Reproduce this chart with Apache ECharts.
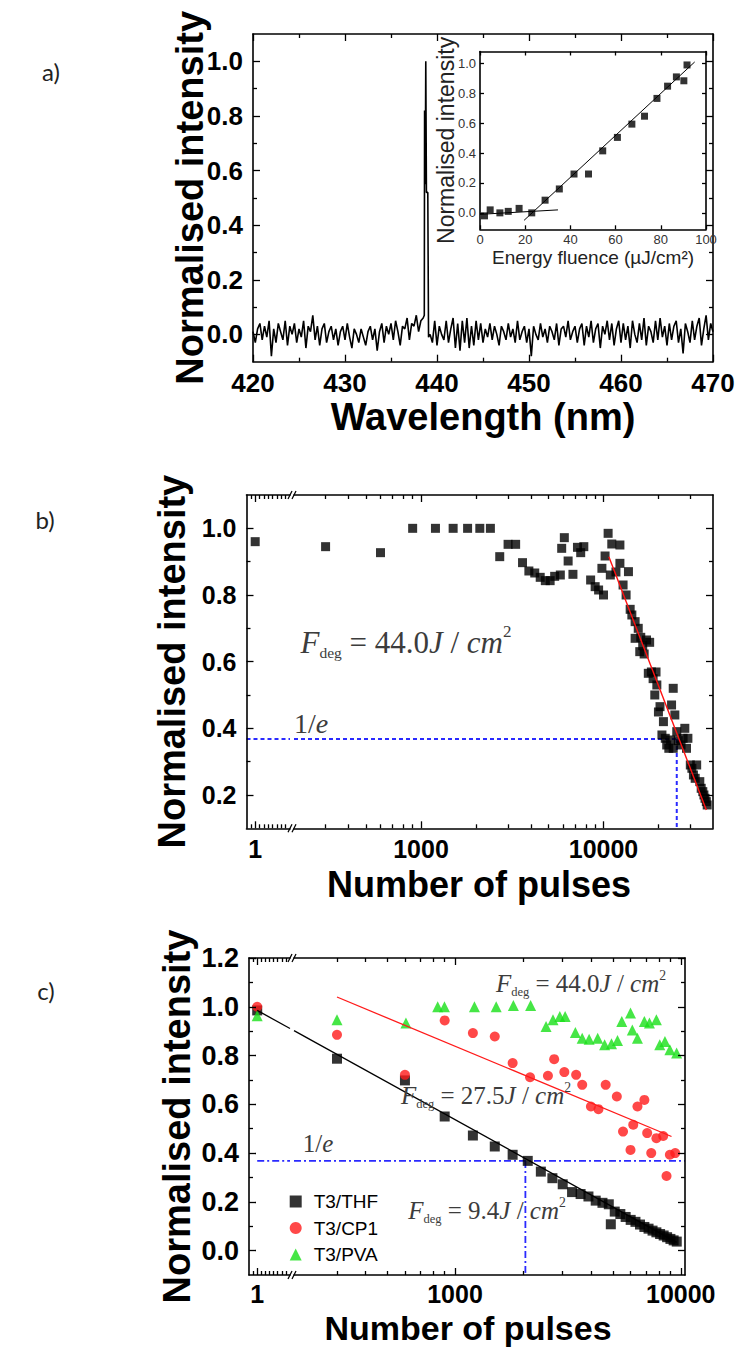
<!DOCTYPE html>
<html>
<head>
<meta charset="utf-8">
<script src="https://cdn.jsdelivr.net/npm/echarts@6.0.0/dist/echarts.min.js"></script>
<style>
html,body{margin:0;padding:0;background:#fff;}
#chart{width:739px;height:1349px;}
</style>
</head>
<body>
<div id="chart"></div>
<script>
// ================= DATA =================
// Panel a: emission spectrum (noise sampled every 0.25 nm from 420 nm)
const aNoiseStart = 420;
const aNoiseStep = 0.25;
const aNoise = [
0.01,-0.03,0.02,0.04,-0.02,0.03,-0.01,0.05,-0.08,0.02,-0.03,0.04,0.01,-0.02,0.05,-0.04,0.03,0.0,0.04,-0.03,
0.02,-0.01,0.05,-0.05,0.03,0.01,0.07,-0.02,0.03,-0.04,0.02,0.04,-0.03,0.01,0.03,-0.02,0.02,-0.04,0.01,0.03,
-0.02,0.04,-0.01,-0.05,0.02,0.0,-0.03,0.02,-0.01,-0.04,0.01,0.03,-0.02,0.02,-0.06,0.01,0.04,-0.03,0.03,0.0,
0.04,-0.02,0.05,0.01,-0.04,0.03,0.02,0.06,-0.02,0.04,0.03,0.07,0.01,0.05,0.06,null,null,0.0,-0.03,0.05,
-0.04,0.03,0.0,-0.02,0.05,-0.03,0.02,0.06,-0.05,0.04,-0.06,0.05,-0.03,0.06,-0.05,0.03,-0.04,0.05,-0.02,0.04,
-0.03,0.02,-0.01,0.04,-0.02,0.03,0.0,-0.04,0.03,0.01,-0.02,0.04,-0.01,0.02,-0.03,0.05,-0.02,0.01,0.03,-0.03,
0.02,-0.08,0.03,0.0,-0.02,0.04,-0.01,0.02,-0.03,0.03,0.01,-0.02,0.04,-0.04,0.02,0.03,-0.01,0.05,-0.02,0.01,
0.03,-0.03,0.02,0.04,-0.04,0.03,-0.01,0.05,-0.03,0.02,0.04,-0.05,0.03,0.0,0.05,-0.02,0.04,-0.04,0.02,0.05,
-0.03,0.04,-0.02,0.03,-0.05,0.05,0.0,-0.03,0.04,-0.02,0.06,-0.04,0.03,0.01,-0.03,0.05,-0.02,0.06,-0.01,0.03,
-0.04,0.04,-0.02,0.03,0.05,-0.03,0.02,-0.07,0.04,0.01,-0.03,0.05,-0.02,0.03,0.06,-0.04,0.02,0.07,-0.02,0.04,0.01
];
const aPeakWavelength = [438.62, 438.65, 438.72, 438.78, 438.85, 439.0, 439.08];
const aPeakIntensity  = [0.07, 0.82, 0.55, 1.0, 0.52, 0.52, -0.01];
const aXTicks = [420, 430, 440, 450, 460, 470];
const aXMinor = [425, 435, 445, 455, 465];
const aYTicks = [0, 0.2, 0.4, 0.6, 0.8, 1.0];
const aYMinor = [0.1, 0.3, 0.5, 0.7, 0.9];

// Inset: threshold curve
const insetFluence   = [2, 4.5, 8.8, 12.5, 17.3, 22.9, 28.8, 35.1, 41.6, 48, 54.3, 60.8, 67.2, 72.8, 78.3, 83, 86.9, 90.2, 91.6];
const insetIntensity = [-0.02, 0.02, 0.0, 0.01, 0.03, 0.0, 0.085, 0.16, 0.26, 0.26, 0.415, 0.505, 0.594, 0.647, 0.766, 0.848, 0.91, 0.884, 0.99];
const insetFitLowX  = [0, 34.5];
const insetFitLowY  = [-0.01, 0.02];
const insetFitHighX = [19.5, 95];
const insetFitHighY = [-0.05, 1.01];
const insetXTicks = [0, 20, 40, 60, 80, 100];
const insetYTicks = [0, 0.2, 0.4, 0.6, 0.8, 1.0];

// Panel b: degradation of T3/THF
const bPulses = [
1, 300, 600, 900, 1200, 1500, 1800, 2100, 2400, 2700,
3000, 3300, 3600, 3900, 4200, 4500, 4800, 5100, 5400, 5800,
5900, 6100, 6400, 6800, 7200, 7500, 7800, 8500, 9000, 9400,
9800, 10000, 10200, 10600, 10900, 11100, 11700, 12300, 12300, 12800,
13300, 13700, 14000, 14300, 14900, 14900, 15500, 15800, 16000, 16400,
16700, 17200, 17600, 17900, 18300, 18700, 19100, 19400, 19600, 20000,
20400, 20900, 21300, 21800, 22200, 22800, 23300, 23600, 24100, 24100,
24600, 25200, 25700, 26600, 27300, 27900, 28500, 29000, 29900, 31100,
30500, 31800, 32400, 33700, 34300, 35000, 35500, 36000, 36600, 37000
];
const bIntensity = [
0.96, 0.945, 0.927, 1.0, 1.0, 1.0, 1.0, 1.0, 1.0, 0.915,
0.952, 0.952, 0.897, 0.872, 0.866, 0.853, 0.843, 0.843, 0.856, 0.86,
0.94, 0.972, 0.902, 0.862, 0.943, 0.927, 0.945, 0.845, 0.825, 0.815,
0.88, 0.80, 0.917, 0.985, 0.86, 0.953, 0.869, 0.95, 0.895, 0.83,
0.80, 0.87, 0.757, 0.74, 0.72, 0.67, 0.70, 0.63, 0.673, 0.648,
0.623, 0.665, 0.565, 0.658, 0.569, 0.549, 0.50, 0.569, 0.53, 0.449,
0.465, 0.38, 0.42, 0.37, 0.35, 0.34, 0.365, 0.47, 0.52, 0.34,
0.44, 0.39, 0.363, 0.35, 0.37, 0.40, 0.34, 0.37, 0.29, 0.26,
0.28, 0.25, 0.29, 0.24, 0.22, 0.21, 0.20, 0.19, 0.18, 0.17
];
const bFitPulses = [10700, 36600];
const bFitValues = [0.915, 0.155];
const bInvE = 0.368;
const bCrossPulses = 25200;
const bYTicks = [0.2, 0.4, 0.6, 0.8, 1.0];
const bYMinor = [0.3, 0.5, 0.7, 0.9];
const bXTicksLeft = [1];
const bXTicksRight = [1000, 10000];
const bLogMinor = [300, 400, 500, 600, 700, 800, 900, 2000, 3000, 4000, 5000, 6000, 7000, 8000, 9000, 20000, 30000];
const leftSegMinor = [0.5, 1.5, 2, 2.5, 3, 3.5, 4, 4.5];

// Panel c: three host matrices
const cThfPulses = [
1, 300, 600, 900, 1200, 1500, 1800, 2100, 2400, 2700,
3000, 3300, 3600, 3900, 4200, 4500, 4800, 4900, 5100, 5400,
5700, 6000, 6300, 6600, 6900, 7200, 7500, 7800, 8100, 8400,
8700, 9000, 9300, 9600
];
const cThfValues = [
0.985, 0.787, 0.698, 0.55, 0.472, 0.427, 0.393, 0.368, 0.324, 0.297,
0.272, 0.24, 0.232, 0.222, 0.205, 0.196, 0.19, 0.108, 0.16, 0.15,
0.138, 0.126, 0.118, 0.107, 0.097, 0.09, 0.082, 0.075, 0.068, 0.062,
0.055, 0.048, 0.042, 0.037
];
const cCp1Pulses = [
1, 300, 600, 900, 1200, 1500, 1800, 2150, 2580, 2750,
3050, 3440, 3660, 4000, 4320, 4650, 5210, 5550, 5990, 6160,
6430, 6900, 7100, 7400, 7800, 8360, 8650, 8950, 9450
];
const cCp1Values = [
1.0, 0.885, 0.721, 0.944, 0.892, 0.878, 0.769, 0.711, 0.717, 0.785,
0.732, 0.721, 0.68, 0.591, 0.58, 0.68, 0.632, 0.488, 0.413, 0.516,
0.591, 0.618, 0.482, 0.4, 0.461, 0.47, 0.306, 0.393, 0.4
];
const cPvaPulses = [
1, 300, 606, 838, 898, 1219, 1522, 1814, 2162, 2532,
2717, 2913, 3075, 3414, 3660, 3927, 4285, 4600, 4935, 5245,
5480, 5990, 6100, 6430, 6900, 7265, 7800, 8070, 8510, 8950, 9590
];
const cPvaValues = [
0.963, 0.947, 0.933, 1.0, 1.0, 1.0, 1.0, 1.005, 1.005, 0.919,
0.947, 0.96, 0.96, 0.894, 0.871, 0.867, 0.871, 0.844, 0.848, 0.862,
0.94, 0.974, 0.905, 0.871, 0.94, 0.933, 0.947, 0.844, 0.858, 0.824, 0.81
];
const cThfFitLeftX = [1, 5];
const cThfFitLeftY = [0.985, 0.911];
const cThfFitRightX = [193.5, 9600];
const cThfFitRightY = [0.902, 0.034];
const cCp1FitX = [300, 9100];
const cCp1FitY = [1.04, 0.468];
const cInvE = 0.368;
const cCrossPulses = 2050;
const cYTicks = [0, 0.2, 0.4, 0.6, 0.8, 1.0, 1.2];
const cYMinor = [0.1, 0.3, 0.5, 0.7, 0.9, 1.1];
const cXTicksLeft = [1];
const cXTicksRight = [1000, 10000];
const cLogMinor = [300, 400, 500, 600, 700, 800, 900, 2000, 3000, 4000, 5000, 6000, 7000, 8000, 9000];
const seriesNames = ['T3/THF', 'T3/CP1', 'T3/PVA'];

// ================= BUILD =================
const SANS = 'Liberation Sans';
const SERIF = 'Liberation Serif';
const grid = [], xAxis = [], yAxis = [], series = [], graphic = [];

function G(r) { grid.push(Object.assign({ show: false, containLabel: false, outerBoundsMode: 'none' }, r)); return grid.length - 1; }
function axis(gi, type, pos, min, max, o) {
  o = o || {};
  const a = {
    gridIndex: gi, type: type, position: pos, min: min, max: max,
    axisLine: { show: !!o.line, onZero: false, lineStyle: { color: '#000', width: 1.6 } },
    axisTick: { show: !!o.ticks, inside: true, length: o.tl || 7, lineStyle: { color: '#000', width: 1.3 } },
    axisLabel: { show: false },
    splitLine: { show: false }, minorTick: { show: false }, minorSplitLine: { show: false },
    silent: true, z: 10
  };
  if (type === 'log') a.logBase = 10;
  if (o.ticks) a.axisTick.customValues = o.ticks;
  if (o.labels) {
    a.axisLabel = { show: true, customValues: o.labels, margin: o.margin, formatter: o.fmt,
      color: o.lc || '#000', fontFamily: SANS, fontWeight: o.fw || 'bold', fontSize: o.fs };
  }
  if (o.name) {
    a.name = o.name; a.nameLocation = 'middle'; a.nameGap = o.nameGap; a.nameMoveOverlap = false;
    a.nameTextStyle = o.ns;
  }
  return a;
}
function X() { xAxis.push(axis.apply(null, arguments)); return xAxis.length - 1; }
function Y() { yAxis.push(axis.apply(null, arguments)); return yAxis.length - 1; }
const fmt1 = v => Number(v).toFixed(1);
const fmtInt = v => String(Math.round(v));
const pairs = (xs, ys) => xs.map((x, i) => [x, ys[i]]);
const bigName = { fontFamily: SANS, fontWeight: 'bold', fontSize: 38, color: '#000' };

// ---- Panel a ----
const rA = { left: 253, top: 34, width: 460, height: 327.7 };
const gA = G(rA), gA2 = G(rA);
const axA = X(gA, 'value', 'bottom', 420, 470, { line: true, ticks: aXTicks, labels: aXTicks, fs: 26, margin: 8, fmt: fmtInt,
  name: 'Wavelength (nm)', nameGap: 36, ns: bigName });
X(gA, 'value', 'top', 420, 470, { line: true, ticks: aXTicks });
const ayA = Y(gA, 'value', 'left', -0.1, 1.1, { line: true, ticks: aYTicks, labels: aYTicks, fs: 26, margin: 10, fmt: fmt1,
  name: 'Normalised intensity', nameGap: 44, ns: bigName });
Y(gA, 'value', 'right', -0.1, 1.1, { line: true, ticks: aYTicks });
X(gA2, 'value', 'bottom', 420, 470, { ticks: aXMinor, tl: 4 });
X(gA2, 'value', 'top', 420, 470, { ticks: aXMinor, tl: 4 });
Y(gA2, 'value', 'left', -0.1, 1.1, { ticks: aYMinor, tl: 4 });
Y(gA2, 'value', 'right', -0.1, 1.1, { ticks: aYMinor, tl: 4 });

const aSpectrum = aNoise.map((v, i) => [aNoiseStart + i * aNoiseStep, v])
  .filter(p => p[1] !== null)
  .concat(pairs(aPeakWavelength, aPeakIntensity))
  .sort((p, q) => p[0] - q[0]);
series.push({ type: 'line', xAxisIndex: axA, yAxisIndex: ayA, data: aSpectrum, symbol: 'none', showSymbol: false,
  lineStyle: { color: '#000', width: 1.6 }, z: 2 });

// ---- Inset ----
const rI = { left: 480, top: 51.5, width: 226, height: 177.8 };
const gI = G(Object.assign({ show: true, backgroundColor: '#fff', borderWidth: 0 }, rI));
const insetLbl = { fs: 13, fw: 'normal', lc: '#333', margin: 4 };
const axI = X(gI, 'value', 'bottom', 0, 100, Object.assign({ line: true, ticks: insetXTicks, labels: insetXTicks, tl: 4, fmt: fmtInt,
  name: 'Energy fluence (µJ/cm²)', nameGap: 19, ns: { fontFamily: SANS, fontSize: 19, color: '#222' } }, insetLbl));
X(gI, 'value', 'top', 0, 100, { line: true, ticks: insetXTicks, tl: 4 });
const ayI = Y(gI, 'value', 'left', -0.11, 1.08, Object.assign({ line: true, ticks: insetYTicks, labels: insetYTicks, tl: 4, fmt: fmt1,
  name: 'Normalised intensity', nameGap: 23, ns: { fontFamily: SANS, fontSize: 23, color: '#222' } }, insetLbl));
Y(gI, 'value', 'right', -0.11, 1.08, { line: true, ticks: insetYTicks, tl: 4 });
series.push({ type: 'line', xAxisIndex: axI, yAxisIndex: ayI, data: pairs(insetFitLowX, insetFitLowY), symbol: 'none',
  lineStyle: { color: '#000', width: 1 }, z: 3 });
series.push({ type: 'line', xAxisIndex: axI, yAxisIndex: ayI, data: pairs(insetFitHighX, insetFitHighY), symbol: 'none',
  lineStyle: { color: '#000', width: 1 }, z: 3 });
series.push({ type: 'scatter', xAxisIndex: axI, yAxisIndex: ayI, data: pairs(insetFluence, insetIntensity), symbol: 'rect',
  symbolSize: 7, itemStyle: { color: '#000' }, z: 4 });

// ---- Broken-axis helper (panels b and c) ----
function brokenPanel(p) {
  const rL = { left: p.left, top: p.top, width: p.breakL - p.left, height: p.height };
  const rR = { left: p.breakR, top: p.top, width: p.right - p.breakR, height: p.height };
  const gL = G(rL), gL2 = G(rL), gR = G(rR), gR2 = G(rR);
  const lbl = { fs: p.xfs || p.fs, margin: p.xMargin, fmt: fmtInt };
  const xl = X(gL, 'value', 'bottom', 0, 5, Object.assign({ line: true, ticks: p.xLeftTicks, labels: p.xLeftTicks }, lbl));
  X(gL, 'value', 'top', 0, 5, { line: true, ticks: p.xLeftTicks });
  const yl = Y(gL, 'value', 'left', p.ymin, p.ymax, { line: true, ticks: p.yTicks, labels: p.yTicks, fs: p.fs, margin: 10, fmt: fmt1,
    name: 'Normalised intensity', nameGap: p.yNameGap, ns: bigName });
  X(gL2, 'value', 'bottom', 0, 5, { ticks: leftSegMinor, tl: 4 });
  X(gL2, 'value', 'top', 0, 5, { ticks: leftSegMinor, tl: 4 });
  Y(gL2, 'value', 'left', p.ymin, p.ymax, { ticks: p.yMinor, tl: 4 });
  const xr = X(gR, 'log', 'bottom', p.logMin, p.logMax, Object.assign({ line: true, ticks: p.xRightTicks, labels: p.xRightTicks }, lbl));
  X(gR, 'log', 'top', p.logMin, p.logMax, { line: true, ticks: p.xRightTicks });
  const yr = Y(gR, 'value', 'right', p.ymin, p.ymax, { line: true, ticks: p.yTicks });
  X(gR2, 'log', 'bottom', p.logMin, p.logMax, { ticks: p.logMinor, tl: 4 });
  X(gR2, 'log', 'top', p.logMin, p.logMax, { ticks: p.logMinor, tl: 4 });
  Y(gR2, 'value', 'right', p.ymin, p.ymax, { ticks: p.yMinor, tl: 4 });
  return { xl: xl, yl: yl, xr: xr, yr: yr };
}
function splitPts(xs, ys) {
  const all = pairs(xs, ys);
  return [all.filter(p => p[0] < 10), all.filter(p => p[0] >= 10)];
}

// ---- Panel b ----
const B = brokenPanel({ left: 246.5, breakL: 290, breakR: 294, right: 713, top: 495, height: 333.3,
  ymin: 0.1, ymax: 1.1, yTicks: bYTicks, yMinor: bYMinor, fs: 25, xMargin: 8, yNameGap: 55.5,
  xLeftTicks: bXTicksLeft, xRightTicks: bXTicksRight, logMin: 201.4, logMax: 39810, logMinor: bLogMinor });
const bSplit = splitPts(bPulses, bIntensity);
const blue = '#2a2aff';
series.push({ type: 'line', xAxisIndex: B.xl, yAxisIndex: B.yl, data: [[0, bInvE], [5, bInvE]], symbol: 'none',
  lineStyle: { color: blue, width: 2, type: [4, 3] }, z: 3 });
series.push({ type: 'line', xAxisIndex: B.xr, yAxisIndex: B.yr, data: [[201.4, bInvE], [bCrossPulses, bInvE]], symbol: 'none',
  lineStyle: { color: blue, width: 2, type: [4, 3] }, z: 3 });
series.push({ type: 'line', xAxisIndex: B.xr, yAxisIndex: B.yr, data: [[bCrossPulses, bInvE], [bCrossPulses, 0.1]], symbol: 'none',
  lineStyle: { color: blue, width: 2, type: [4, 3] }, z: 3 });
series.push({ type: 'scatter', xAxisIndex: B.xl, yAxisIndex: B.yl, data: bSplit[0], symbol: 'rect', symbolSize: 9,
  itemStyle: { color: '#000' }, z: 4 });
series.push({ type: 'scatter', xAxisIndex: B.xr, yAxisIndex: B.yr, data: bSplit[1], symbol: 'rect', symbolSize: 9,
  itemStyle: { color: '#000' }, z: 4 });
series.push({ type: 'line', xAxisIndex: B.xr, yAxisIndex: B.yr, data: pairs(bFitPulses, bFitValues), symbol: 'none',
  lineStyle: { color: '#ff1010', width: 1.4 }, z: 5 });

// ---- Panel c ----
const C = brokenPanel({ left: 249, breakL: 290, breakR: 294, right: 685, top: 958, height: 317,
  ymin: -0.1, ymax: 1.2, yTicks: cYTicks, yMinor: cYMinor, fs: 27, xfs: 25, xMargin: 6, yNameGap: 53,
  xLeftTicks: cXTicksLeft, xRightTicks: cXTicksRight, logMin: 193.5, logMax: 10443, logMinor: cLogMinor });
const cStyles = [
  { name: seriesNames[0], xs: cThfPulses, ys: cThfValues, symbol: 'rect', size: 10, color: '#000' },
  { name: seriesNames[1], xs: cCp1Pulses, ys: cCp1Values, symbol: 'circle', size: 10, color: '#ff1a1a' },
  { name: seriesNames[2], xs: cPvaPulses, ys: cPvaValues, symbol: 'triangle', size: 11, color: '#18e018' }
];
series.push({ type: 'line', xAxisIndex: C.xl, yAxisIndex: C.yl, data: [[1, cInvE], [5, cInvE]], symbol: 'none',
  lineStyle: { color: blue, width: 1.8, type: [7, 3, 2, 3] }, z: 3 });
series.push({ type: 'line', xAxisIndex: C.xr, yAxisIndex: C.yr, data: [[193.5, cInvE], [10443, cInvE]], symbol: 'none',
  lineStyle: { color: blue, width: 1.8, type: [7, 3, 2, 3] }, z: 3 });
series.push({ type: 'line', xAxisIndex: C.xr, yAxisIndex: C.yr, data: [[cCrossPulses, cInvE], [cCrossPulses, -0.1]], symbol: 'none',
  lineStyle: { color: blue, width: 1.8, type: [7, 3, 2, 3] }, z: 3 });
cStyles.forEach(s => {
  const sp = splitPts(s.xs, s.ys);
  series.push({ type: 'scatter', name: s.name, xAxisIndex: C.xr, yAxisIndex: C.yr, data: sp[1], symbol: s.symbol,
    symbolSize: s.size, itemStyle: { color: s.color }, z: 4 });
  series.push({ type: 'scatter', name: s.name, xAxisIndex: C.xl, yAxisIndex: C.yl, data: sp[0], symbol: s.symbol,
    symbolSize: s.size, itemStyle: { color: s.color }, z: 4 });
});
series.push({ type: 'line', xAxisIndex: C.xl, yAxisIndex: C.yl, data: pairs(cThfFitLeftX, cThfFitLeftY), symbol: 'none',
  lineStyle: { color: '#000', width: 1.3 }, z: 5 });
series.push({ type: 'line', xAxisIndex: C.xr, yAxisIndex: C.yr, data: pairs(cThfFitRightX, cThfFitRightY), symbol: 'none',
  lineStyle: { color: '#000', width: 1.3 }, z: 5 });
series.push({ type: 'line', xAxisIndex: C.xr, yAxisIndex: C.yr, data: pairs(cCp1FitX, cCp1FitY), symbol: 'none',
  lineStyle: { color: '#ff1a1a', width: 1.3 }, z: 5 });

// ---- Graphic texts ----
function txt(x, y, style, rot) {
  graphic.push({ type: 'text', x: x, y: y, rotation: rot || 0, z: 100, silent: true,
    style: Object.assign({ align: 'center', verticalAlign: 'middle', textAlign: 'center', textVerticalAlign: 'middle', fill: '#000' }, style) });
}
function serifRich(size) {
  const base = { fontFamily: SERIF, fontSize: size, fill: '#3c3c3c', lineHeight: size * 1.2, verticalAlign: 'middle' };
  return {
    i: Object.assign({}, base, { fontStyle: 'italic' }),
    n: base,
    s: { fontFamily: SERIF, fontSize: size * 0.5, fill: '#3c3c3c', lineHeight: size * 0.5, verticalAlign: 'bottom' },
    p: { fontFamily: SERIF, fontSize: size * 0.55, fill: '#3c3c3c', lineHeight: size * 0.55, verticalAlign: 'top' }
  };
}
function fdeg(x, y, value, size) {
  txt(x, y, { text: '{i|F}{s|deg}{n| = ' + value + '}{i|J}{n| / }{i|cm}{p|2}', font: size + 'px "Liberation Serif"', rich: serifRich(size) });
}
function invE(x, y, size) {
  txt(x, y, { text: '{n|1/}{i|e}', font: size + 'px "Liberation Serif"', rich: serifRich(size) });
}
txt(51, 71, { text: 'a)', font: '24px Lato', fill: '#222' });
txt(45, 519, { text: 'b)', font: '24px Lato', fill: '#222' });
txt(46, 990, { text: 'c)', font: '24px Lato', fill: '#222' });
txt(479, 884, { text: 'Number of pulses', font: 'bold 36px "Liberation Sans"' });
txt(468, 1328, { text: 'Number of pulses', font: 'bold 34px "Liberation Sans"' });
fdeg(406, 642, '44.0', 31);
invE(311, 723, 28);
fdeg(581, 983, '44.0', 25);
fdeg(486, 1095, '27.5', 25);
fdeg(487, 1210, '9.4', 25);
invE(318, 1143, 25);

function brk(x, y) {
  [x - 2, x + 2].forEach(xx => graphic.push({ type: 'line', z: 100, silent: true,
    shape: { x1: xx - 2, y1: y + 4, x2: xx + 2, y2: y - 4 }, style: { stroke: '#000', lineWidth: 1.3 } }));
}
brk(292, 495); brk(292, 828.3); brk(292, 958); brk(292, 1275);

// ================= RENDER =================
const chart = echarts.init(document.getElementById('chart'), null, { renderer: 'svg', width: 739, height: 1349 });
chart.setOption({
  animation: false,
  backgroundColor: '#fff',
  textStyle: { fontFamily: SANS },
  grid: grid, xAxis: xAxis, yAxis: yAxis, series: series, graphic: graphic,
  legend: {
    data: seriesNames, orient: 'vertical', left: 284.7, top: 1187, itemWidth: 12, itemHeight: 12, itemGap: 7.5,
    symbolKeepAspect: true, selectedMode: false,
    textStyle: { fontFamily: SANS, fontSize: 19, color: '#000', padding: [0, 0, 0, 7] }
  }
});
</script>
</body>
</html>
